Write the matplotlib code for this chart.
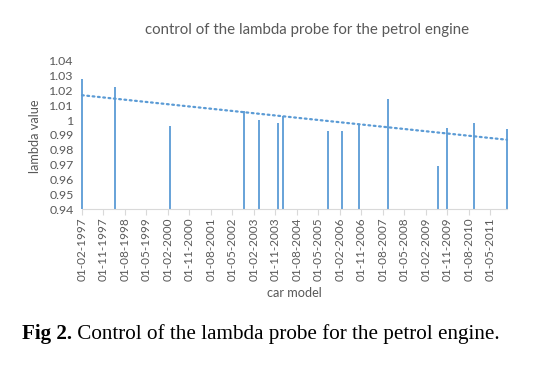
import datetime as dt
import matplotlib
matplotlib.use("Agg")
import matplotlib.pyplot as plt
import matplotlib.dates as mdates
import numpy as np

# measurement dates (car model) and lambda readings
dates = [
    "1997-02-01", "1998-04-01", "2000-03-01", "2002-10-01", "2003-04-01",
    "2003-12-01", "2004-02-01", "2005-09-01", "2006-03-01", "2006-10-01",
    "2007-10-01", "2009-07-01", "2009-11-01", "2010-10-01", "2011-12-01",
]
lambda_vals = [
    1.028, 1.022, 0.996, 1.006, 1.000,
    0.998, 1.003, 0.993, 0.993, 0.997,
    1.014, 0.969, 0.995, 0.998, 0.994,
]
y_ticks = [0.94, 0.95, 0.96, 0.97, 0.98, 0.99, 1.00, 1.01, 1.02, 1.03, 1.04]
y_tick_labels = ["0.94", "0.95", "0.96", "0.97", "0.98", "0.99", "1",
                 "1.01", "1.02", "1.03", "1.04"]

bar_color = "#5B9BD5"
text_gray = "#595959"
font = "Lato"

d = [dt.datetime.strptime(s, "%Y-%m-%d") for s in dates]
xnum = mdates.date2num(d)

fig = plt.figure(figsize=(5.34, 3.72), dpi=100)
ax = fig.add_axes([0.1536, 0.4374, 0.7958, 0.3994])

ax.vlines(d, 0.94, lambda_vals, color=bar_color, lw=1.3, clip_on=False)

# linear trend line
k, b = np.polyfit(xnum, lambda_vals, 1)
ax.plot(mdates.num2date([xnum[0], xnum[-1]]), [k * xnum[0] + b, k * xnum[-1] + b],
        color=bar_color, lw=1.6, linestyle=(0, (0.8, 1.6)), dash_capstyle="round",
        clip_on=False)

ax.set_ylim(0.94, 1.04)
ax.set_yticks(y_ticks)
ax.set_yticklabels(y_tick_labels, fontsize=8.9, color=text_gray, family=font)
ax.set_xlim(xnum[0], xnum[-1])

# a tick every 9 months starting 01-02-1997
ticks = [mdates.date2num(dt.datetime(1997 + (1 + 9 * i) // 12, (1 + 9 * i) % 12 + 1, 1))
         for i in range(20)]
ax.set_xticks(ticks)
ax.xaxis.set_major_formatter(mdates.DateFormatter("%d-%m-%Y"))
for lbl in ax.get_xticklabels():
    lbl.set_rotation(90)
    lbl.set_fontsize(8.5)
    lbl.set_color(text_gray)
    lbl.set_family(font)

for s in ["top", "right", "left"]:
    ax.spines[s].set_visible(False)
ax.spines["bottom"].set_color("#D9D9D9")
ax.tick_params(axis="x", length=4, color="#D9D9D9", pad=2)
ax.tick_params(axis="y", length=0, pad=6)

fig.text(0.575, 0.919, "control of the lambda probe for the petrol engine",
         ha="center", va="center", fontsize=10.8, color=text_gray, family=font)
fig.text(0.066, 0.633, "lambda value", rotation=90, ha="center", va="center",
         fontsize=9.2, color=text_gray, family=font)
fig.text(0.552, 0.212, "car model", ha="center", va="center",
         fontsize=9.2, color=text_gray, family=font)

cap = fig.text(0.041, 0.088, "Fig 2.", ha="left", va="baseline", fontsize=15.2,
               fontweight="bold", color="black", family="Liberation Serif")
fig.canvas.draw()
ax.annotate(" Control of the lambda probe for the petrol engine.", xy=(1, 0),
            xycoords=cap, va="bottom", ha="left", fontsize=15.2, color="black",
            family="Liberation Serif", annotation_clip=False)

fig.savefig("out.png", dpi=100)
